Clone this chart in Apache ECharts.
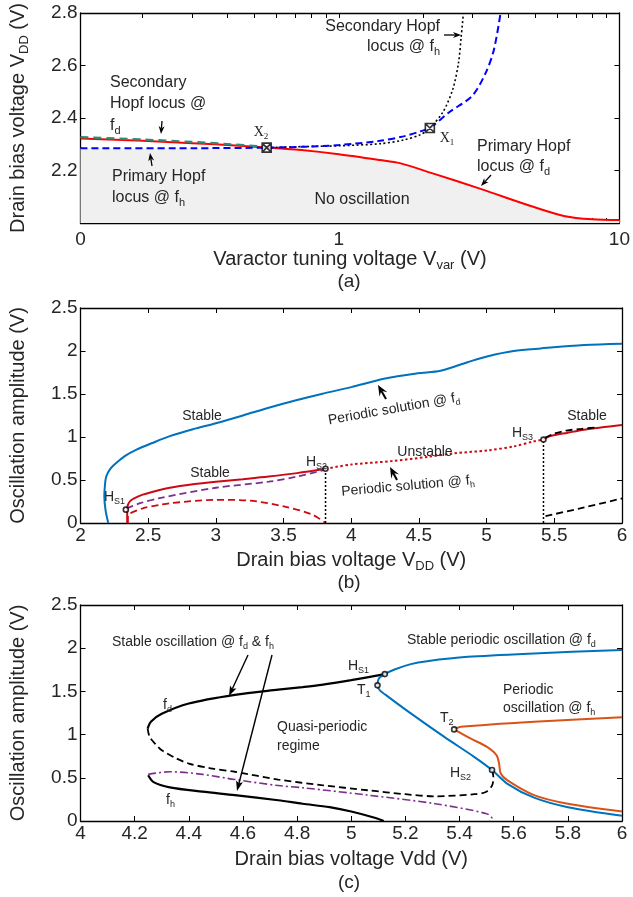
<!DOCTYPE html>
<html><head><meta charset="utf-8">
<script src="https://cdn.jsdelivr.net/npm/echarts@6/dist/echarts.min.js"></script>
<style>html,body{margin:0;padding:0;background:#fff}#c{width:633px;height:897px}</style>
</head><body><div id="c"></div>
<script>
// ---------------- Panel (a) data ----------------
const aXTicks = [0.2,0.3,0.4,0.5,0.6,0.7,0.8,0.9,1,2,3,4,5,6,7,8,9,10];
const aXLabels = [0.12, 1, 10];
const aRedX  = [0.12,0.2,0.3,0.4,0.553,0.735,1.0,1.4,1.65,2.16,3.24,4.86,6.4,8,10];
const aRedY  = [2.322,2.313,2.304,2.297,2.288,2.278,2.262,2.240,2.228,2.189,2.128,2.064,2.026,2.014,2.011];
const aTealX = [0.12,0.2,0.3,0.4,0.553];
const aTealY = [2.327,2.318,2.309,2.301,2.290];
const aBlueX = [0.12,0.3,0.553,0.735,1.0,1.4,1.7,1.95,2.11,2.48,2.99,3.34,3.57,3.77];
const aBlueY = [2.285,2.285,2.287,2.290,2.297,2.313,2.330,2.349,2.362,2.423,2.485,2.573,2.66,2.8];
const aBlackX = [0.553,0.735,1.0,1.4,1.7,1.95,2.11,2.35,2.55,2.67,2.727,2.78];
const aBlackY = [2.287,2.291,2.294,2.302,2.316,2.336,2.362,2.423,2.511,2.611,2.706,2.8];
const aPtX = [0.553, 2.11];
const aPtY = [2.287, 2.362];

// ---------------- Panel (b) data ----------------
const bBlueX = [2.205,2.185,2.176,2.18,2.19,2.22,2.266,2.33,2.41,2.53,2.66,2.83,3.0,3.2,3.39,3.6,3.78,4.0,4.25,4.49,4.66,4.86,5.01,5.2,5.4,5.72,6.0];
const bBlueY = [0,0.15,0.31,0.43,0.54,0.63,0.70,0.78,0.85,0.93,1.01,1.09,1.16,1.25,1.34,1.43,1.50,1.58,1.68,1.74,1.77,1.87,1.94,2.0,2.03,2.07,2.085];
const bRedS1X = [2.345,2.345,2.35,2.37,2.40,2.46,2.55,2.66,2.83,3.0,3.2,3.39,3.6,3.81];
const bRedS1Y = [0,0.15,0.21,0.26,0.29,0.33,0.37,0.41,0.45,0.48,0.51,0.54,0.58,0.63];
const bPurX = [2.34,2.44,2.585,3.0,3.39,3.6,3.81];
const bPurY = [0.17,0.23,0.29,0.41,0.48,0.54,0.62];
const bRedDashX = [2.35,2.35,2.46,2.585,2.66,3.0,3.25,3.51,3.71,3.81];
const bRedDashY = [0,0.08,0.17,0.21,0.23,0.27,0.26,0.19,0.10,0];
const bRedDotX = [3.81,4.0,4.3,4.57,4.76,5.01,5.2,5.35,5.42];
const bRedDotY = [0.63,0.68,0.72,0.77,0.81,0.845,0.89,0.95,0.97];
const bRedS2X = [5.42,5.47,5.6,5.72,6.0];
const bRedS2Y = [0.97,1.01,1.05,1.085,1.14];
const bBlkDashUX = [5.43,5.5,5.59,5.7,5.8];
const bBlkDashUY = [0.99,1.04,1.075,1.095,1.11];
const bBlkDashLX = [5.435,5.69,6.0];
const bBlkDashLY = [0.08,0.17,0.285];
const bVertX = [3.81, 5.42];
const bVertY = [0.63, 0.97];
const bPtX = [2.335,3.81,5.42];
const bPtY = [0.155,0.63,0.97];

// ---------------- Panel (c) data ----------------
const cFdX = [4.248,4.26,4.30,4.40,4.57,4.73,4.82,4.89,5.0,5.124];
const cFdY = [1.07,1.15,1.24,1.36,1.46,1.52,1.55,1.575,1.63,1.70];
const cFdDashX = [4.248,4.256,4.28,4.30,4.35,4.40,4.48,4.57,4.73,4.89,5.06,5.2,5.31,5.455,5.497,5.52,5.525,5.52];
const cFdDashY = [1.07,0.97,0.88,0.82,0.73,0.665,0.61,0.57,0.48,0.415,0.356,0.31,0.286,0.31,0.336,0.41,0.51,0.59];
const cFhX = [4.25,4.27,4.33,4.45,4.57,4.73,4.82,4.92,5.0,5.09,5.12];
const cFhY = [0.53,0.45,0.39,0.34,0.30,0.24,0.20,0.16,0.11,0.035,0];
const cPurX = [4.25,4.33,4.45,4.57,4.73,4.82,5.06,5.31,5.50,5.52,5.51];
const cPurY = [0.54,0.57,0.54,0.48,0.41,0.385,0.30,0.20,0.085,0.03,0];
const cBlueX = [6.0,5.675,5.43,5.28,5.22,5.16,5.124,5.102,5.097,5.105,5.137,5.22,5.345,5.455,5.52,5.577,5.675,5.80,6.0];
const cBlueY = [1.98,1.94,1.90,1.85,1.816,1.754,1.70,1.65,1.57,1.515,1.437,1.245,0.97,0.74,0.59,0.43,0.27,0.16,0.06];
const cOrUX = [5.38,5.405,5.675,6.0];
const cOrUY = [1.06,1.09,1.15,1.20];
const cOrLX = [5.38,5.44,5.50,5.537,5.546,5.552,5.577,5.675,5.80,6.0];
const cOrLY = [1.06,0.955,0.86,0.76,0.665,0.55,0.47,0.30,0.20,0.11];
const cPtX = [5.124,5.097,5.38,5.52];
const cPtY = [1.70,1.57,1.06,0.59];

// ---------------- helpers ----------------
const F = '"Liberation Sans", Arial, Helvetica, sans-serif';
const FS = '"Liberation Serif", "DejaVu Serif", serif';
const TXT = '#262626';
const zip = (xs, ys) => xs.map((x, i) => [x, ys[i]]);

function richDef(f, fam) {
  fam = fam || F;
  const lh = Math.round(f * 1.25);
  return {
    n: {fontSize: f, fontFamily: fam, color: TXT, fill: TXT, lineHeight: lh},
    s: {fontSize: Math.round(f * 0.66), fontFamily: fam, color: TXT, fill: TXT, verticalAlign: 'bottom', lineHeight: Math.round(f * 0.8)}
  };
}
// "V_{DD}" -> rich markup
function mk(str) {
  const parts = [];
  const re = /_\{([^}]*)\}/g;
  let last = 0, m;
  while ((m = re.exec(str))) {
    if (m.index > last) parts.push('{n|' + str.slice(last, m.index) + '}');
    parts.push('{s|' + m[1] + '}');
    last = re.lastIndex;
  }
  if (last < str.length) parts.push('{n|' + str.slice(last) + '}');
  return parts.join('');
}

function ln(g, xs, ys, color, width, dash, extra) {
  return Object.assign({
    type: 'line', xAxisIndex: g * 2, yAxisIndex: g * 2,
    data: zip(xs, ys), symbol: 'none', showSymbol: false, smooth: 0.3,
    lineStyle: {color, width, type: dash || 'solid'}, z: 3, animation: false, silent: true
  }, extra || {});
}
function pts(g, xs, ys, symbol, size) {
  return {
    type: 'scatter', xAxisIndex: g * 2, yAxisIndex: g * 2, data: zip(xs, ys),
    symbol, symbolSize: size, itemStyle: {color: '#fff', borderColor: '#000', borderWidth: 1.6},
    z: 10, animation: false, silent: true
  };
}

// log-x interpolation helper for fill
function interpLog(xs, ys, x) {
  if (x < xs[0] || x > xs[xs.length - 1]) return Infinity;
  for (let i = 0; i < xs.length - 1; i++) {
    if (x >= xs[i] && x <= xs[i + 1]) {
      const t = (Math.log(x) - Math.log(xs[i])) / (Math.log(xs[i + 1]) - Math.log(xs[i]));
      return ys[i] + t * (ys[i + 1] - ys[i]);
    }
  }
  return Infinity;
}
const aFillY = aRedX.map((x, i) => Math.min(aRedY[i], interpLog(aBlueX, aBlueY, x)));

// ---------------- axes ----------------
const axLine = {show: true, onZero: false, lineStyle: {color: '#000', width: 1.3}};
const axTick = {show: true, inside: true, length: 5, lineStyle: {color: '#000', width: 1}};
const lab = (margin, extra) => Object.assign({color: TXT, fontSize: 19, fontFamily: F, margin}, extra || {});
const nameRich = richDef(20);

function xPair(g, cfg, labelExtra, name, nameGap, labMargin) {
  const base = Object.assign({gridIndex: g, axisLine: axLine, axisTick: axTick, splitLine: {show: false}}, cfg);
  return [
    Object.assign({}, base, {position: 'bottom', axisLabel: lab(labMargin, labelExtra),
      name, nameLocation: 'middle', nameGap, nameTextStyle: {rich: nameRich}}),
    Object.assign({}, base, {position: 'top', axisLabel: {show: false}})
  ];
}
function yPair(g, cfg, labelExtra, name, nameGap) {
  const base = Object.assign({gridIndex: g, axisLine: axLine, axisTick: axTick, splitLine: {show: false}}, cfg);
  return [
    Object.assign({}, base, {position: 'left', axisLabel: lab(3, labelExtra),
      name, nameLocation: 'middle', nameGap, nameRotate: 90, nameTextStyle: {rich: nameRich}}),
    Object.assign({}, base, {position: 'right', axisLabel: {show: false}})
  ];
}

const xAxis = [
  ...xPair(0, {type: 'log', logBase: 10, min: 0.12, max: 10,
      axisTick: Object.assign({}, axTick, {customValues: aXTicks})},
    {customValues: aXLabels, formatter: v => (v < 0.5 ? '0' : String(Math.round(v)))},
    mk('Varactor tuning voltage V_{var} (V)'), 22, 7),
  ...xPair(1, {type: 'value', min: 2, max: 6, interval: 0.5}, {}, mk('Drain bias voltage V_{DD} (V)'), 25, 3),
  ...xPair(2, {type: 'value', min: 4, max: 6, interval: 0.2}, {formatter: v => String(+v.toFixed(1))}, mk('Drain bias voltage Vdd (V)'), 26, 3)
];
const yAxis = [
  ...yPair(0, {type: 'value', min: 2.0, max: 2.8, interval: 0.2}, {formatter: v => (v < 2.1 ? '' : v.toFixed(1))}, mk('Drain bias voltage V_{DD} (V)'), 50),
  ...yPair(1, {type: 'value', min: 0, max: 2.5, interval: 0.5}, {}, mk('Oscillation amplitude (V)'), 50),
  ...yPair(2, {type: 'value', min: 0, max: 2.5, interval: 0.5}, {}, mk('Oscillation amplitude (V)'), 50)
];

// ---------------- series ----------------
const BLUE_A = '#0000ff', RED_A = '#ff0000', TEAL = '#2e8b76';
const BLUE = '#0072bd', RED = '#cc0a14', PUR = '#7e2f8e', ORG = '#d95319';
const boxSym = 'path://M0,0L10,0L10,10L0,10Z M0,0L10,10 M10,0L0,10';

const series = [
  // (a)
  ln(0, aRedX, aFillY, 'rgba(0,0,0,0)', 0, 'solid', {areaStyle: {color: '#f0f0f0', opacity: 1, origin: 'start'}, z: 1}),
  ln(0, aRedX, aRedY, RED_A, 2),
  ln(0, aTealX, aTealY, TEAL, 2.2, [8, 5], {z: 4}),
  ln(0, aBlueX, aBlueY, BLUE_A, 2, [7, 4], {z: 5}),
  ln(0, aBlackX, aBlackY, '#000', 1.6, [2, 2.5], {z: 4}),
  pts(0, aPtX, aPtY, boxSym, 9),
  // (b)
  ln(1, bBlueX, bBlueY, BLUE, 2),
  ln(1, bRedS1X, bRedS1Y, RED, 2),
  ln(1, bPurX, bPurY, PUR, 1.8, [7, 4]),
  ln(1, bRedDashX, bRedDashY, RED, 1.8, [7, 4]),
  ln(1, bRedDotX, bRedDotY, RED, 2, [2.5, 2.5]),
  ln(1, bRedS2X, bRedS2Y, RED, 2),
  ln(1, bBlkDashUX, bBlkDashUY, '#000', 1.8, [7, 4], {z: 4}),
  ln(1, bBlkDashLX, bBlkDashLY, '#000', 1.8, [7, 4]),
  ln(1, [bVertX[0], bVertX[0]], [0, bVertY[0]], '#000', 1.5, [2, 2], {smooth: false}),
  ln(1, [bVertX[1], bVertX[1]], [0, bVertY[1]], '#000', 1.5, [2, 2], {smooth: false}),
  pts(1, bPtX, bPtY, 'circle', 5),
  // (c)
  ln(2, cFdX, cFdY, '#000', 2.2),
  ln(2, cFdDashX, cFdDashY, '#000', 1.8, [7, 4]),
  ln(2, cFhX, cFhY, '#000', 2.2),
  ln(2, cPurX, cPurY, PUR, 1.6, [8, 3, 2, 3]),
  ln(2, cBlueX, cBlueY, BLUE, 2),
  ln(2, cOrUX, cOrUY, ORG, 2),
  ln(2, cOrLX, cOrLY, ORG, 2),
  pts(2, cPtX, cPtY, 'circle', 5)
];

// ---------------- annotations (graphic) ----------------
function T(x, y, str, size, opts) {
  opts = opts || {};
  return {
    type: 'text', x, y, rotation: opts.rot || 0, z: 20, silent: true,
    style: {text: mk(str), rich: richDef(size, opts.fam), fill: TXT,
      align: opts.align || 'left', verticalAlign: 'middle', fontSize: size, fontFamily: opts.fam || F}
  };
}
function arrow(x1, y1, x2, y2, head, halfW, notch, w) {
  const a = Math.atan2(y2 - y1, x2 - x1);
  const c = Math.cos(a), s = Math.sin(a);
  const hx = x2 - head * c, hy = y2 - head * s;
  const nx = x2 - head * notch * c, ny = y2 - head * notch * s;
  const px = -s * halfW, py = c * halfW;
  return [
    {type: 'line', silent: true, z: 20, shape: {x1, y1, x2: nx, y2: ny}, style: {stroke: '#000', lineWidth: w}},
    {type: 'polygon', silent: true, z: 20, shape: {points: [[x2, y2], [hx + px, hy + py], [nx, ny], [hx - px, hy - py]]}, style: {fill: '#000'}}
  ];
}

const graphic = [
  // (a)
  T(110, 83, 'Secondary', 16), T(110, 104, 'Hopf locus @', 16), T(110, 126, 'f_{d}', 16),
  ...arrow(162, 121, 161, 134, 8, 3, 0.7, 1.3),
  T(112, 177, 'Primary Hopf', 16), T(112, 198, 'locus @ f_{h}', 16),
  ...arrow(152, 166, 150, 153, 8, 3, 0.7, 1.3),
  T(362, 200, 'No oscillation', 16, {align: 'center'}),
  T(440, 27, 'Secondary Hopf', 16, {align: 'right'}), T(440, 47, 'locus @ f_{h}', 16, {align: 'right'}),
  ...arrow(444, 35, 461, 35, 8, 3, 0.7, 1.3),
  T(477, 147, 'Primary Hopf', 16), T(477, 167, 'locus @ f_{d}', 16),
  ...arrow(491, 175, 481, 186, 8, 3, 0.7, 1.3),
  T(261, 132, 'X_{2}', 14, {align: 'center', fam: FS}),
  T(447, 138, 'X_{1}', 14, {align: 'center', fam: FS}),
  T(349, 282, '(a)', 19, {align: 'center'}),
  // (b)
  T(202, 416, 'Stable', 14, {align: 'center'}),
  T(210, 473, 'Stable', 14, {align: 'center'}),
  T(104, 497, 'H_{S1}', 14),
  T(306, 462, 'H_{S2}', 14),
  T(512, 433, 'H_{S3}', 14),
  T(587, 416, 'Stable', 14, {align: 'center'}),
  T(425, 452, 'Unstable', 14, {align: 'center'}),
  T(394, 409, 'Periodic solution @ f_{d}', 14, {align: 'center', rot: 10 * Math.PI / 180}),
  T(408, 486, 'Periodic solution @ f_{h}', 14, {align: 'center', rot: 5 * Math.PI / 180}),
  ...arrow(386, 399, 378, 385, 11, 4.5, 0.6, 2),
  ...arrow(397, 480, 390, 467, 11, 4.5, 0.6, 2),
  T(349, 583, '(b)', 19, {align: 'center'}),
  // (c)
  T(112, 642, 'Stable oscillation @ f_{d} & f_{h}', 14),
  ...arrow(248, 655, 229, 696, 10, 3.5, 0.8, 1.4),
  ...arrow(272, 655, 237, 791, 10, 3.5, 0.8, 1.4),
  T(163, 705, 'f_{d}', 14), T(166, 800, 'f_{h}', 14),
  T(277, 727, 'Quasi-periodic', 14), T(277, 746, 'regime', 14),
  T(348, 666, 'H_{S1}', 14), T(357, 690, 'T_{1}', 14),
  T(440, 718, 'T_{2}', 14), T(450, 773, 'H_{S2}', 14),
  T(407, 640, 'Stable periodic oscillation @ f_{d}', 14),
  T(503, 690, 'Periodic', 14), T(503, 708, 'oscillation @ f_{h}', 14),
  T(349, 883, '(c)', 19, {align: 'center'})
];

const chart = echarts.init(document.getElementById('c'), null, {renderer: 'canvas'});
chart.setOption({
  animation: false,
  backgroundColor: '#fff',
  grid: [
    {left: 77, top: 10, width: 545, height: 213},
    {left: 77, top: 308, width: 545, height: 215},
    {left: 77, top: 605, width: 545, height: 216}
  ],
  xAxis, yAxis, series, graphic
});
</script></body></html>
